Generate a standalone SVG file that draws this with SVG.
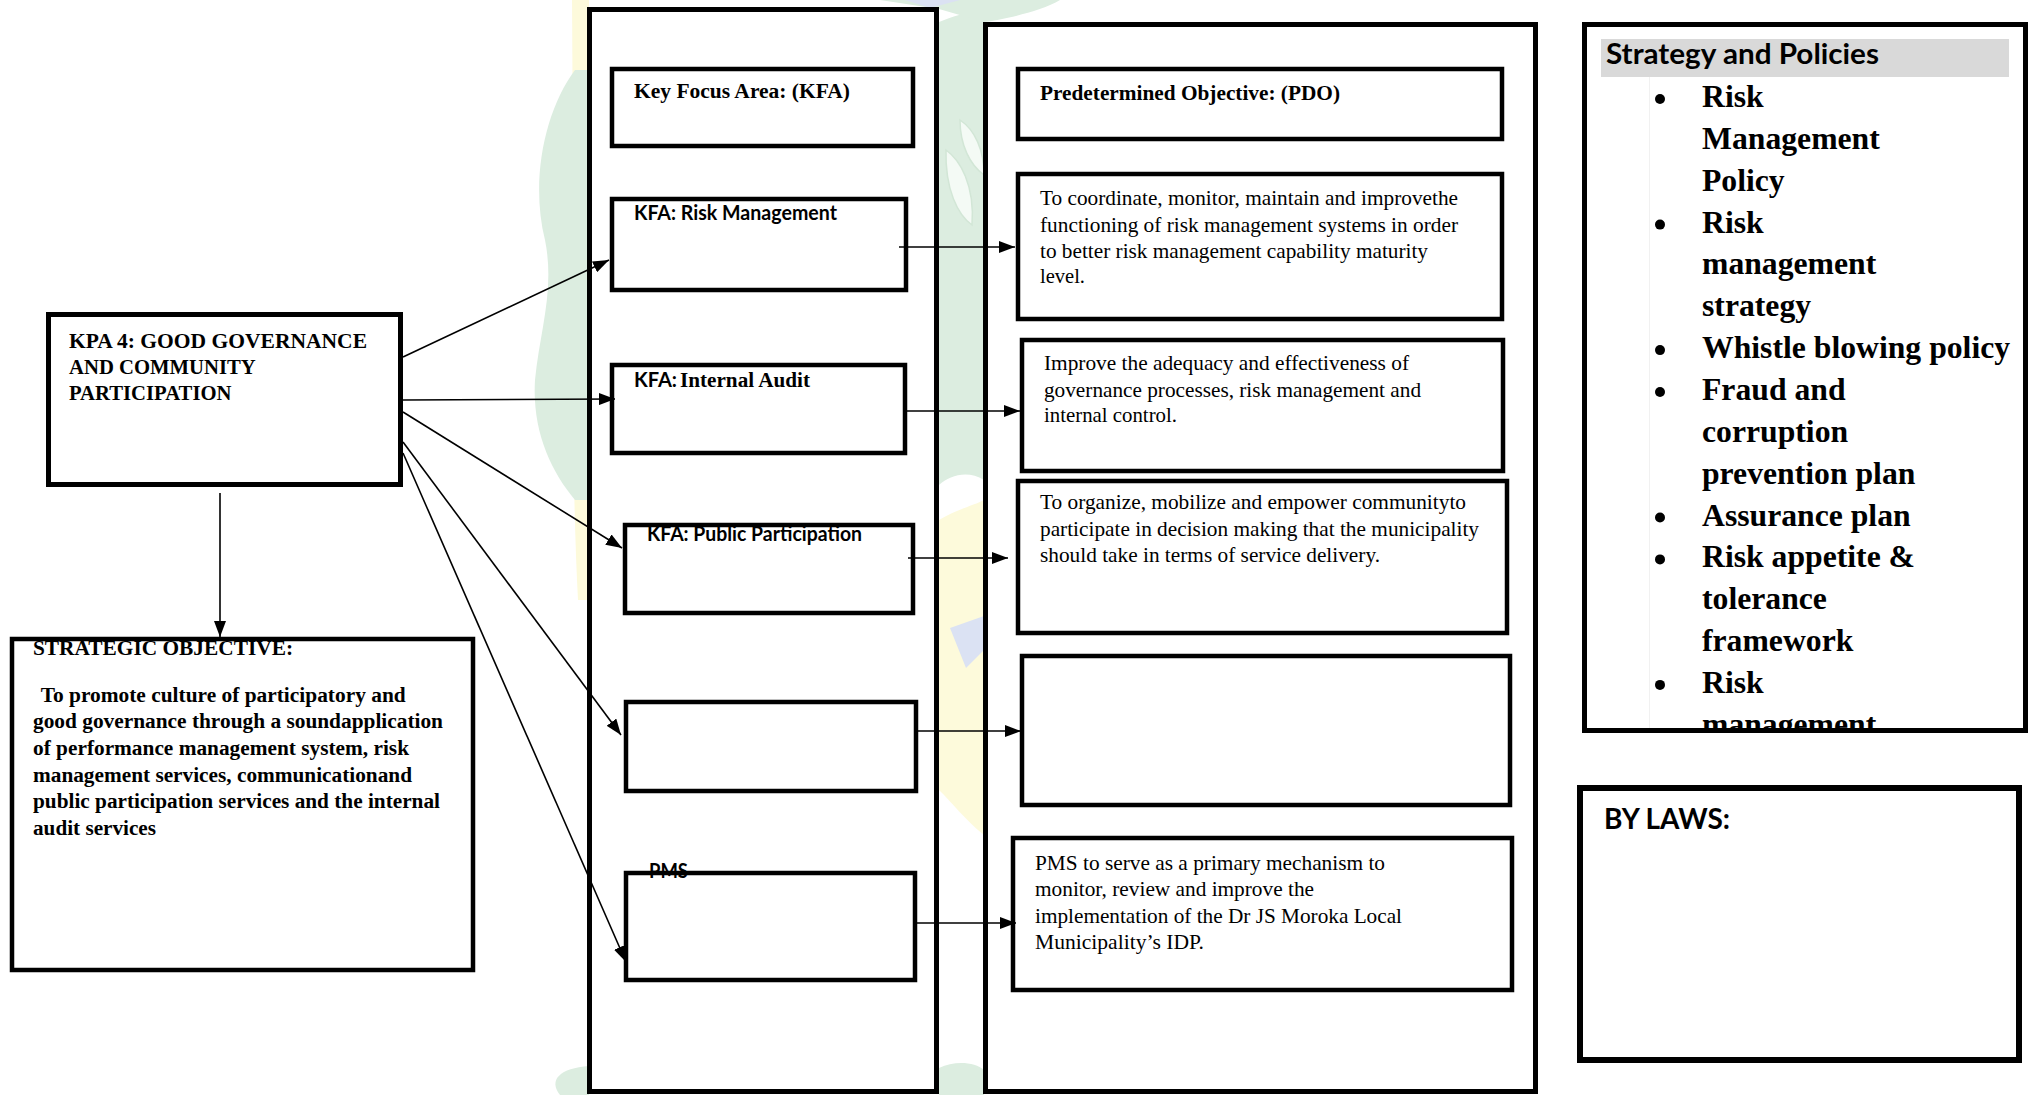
<svg xmlns="http://www.w3.org/2000/svg" width="2031" height="1095" viewBox="0 0 2031 1095">
  <defs>
    <style>
      .frame { fill: #ffffff; stroke: #000000; stroke-width: 5; }
      .box { fill: #ffffff; stroke: #000000; stroke-width: 4.5; }
      .conn { fill: none; stroke: #000000; stroke-width: 1.6; marker-end: url(#arrow); }
      .serif-b { font-family: "Liberation Serif", "Times New Roman", serif; font-weight: bold; font-size: 20.7px; fill: #000000; }
      .serif-r { font-family: "Liberation Serif", "Times New Roman", serif; font-size: 20.7px; fill: #000000; }
      .sans-b { font-family: Lato, "Liberation Sans", sans-serif; font-weight: bold; font-size: 20.7px; fill: #000000; }
      .list { font-family: "Liberation Serif", "Times New Roman", serif; font-weight: bold; font-size: 31.7px; fill: #000000; }
      .wm-green { fill: #dcede0; }
      .wm-yellow { fill: #fdfadb; }
      .wm-blue { fill: #dbe2f3; }
      .wm-leaf { fill: #f4faf5; stroke: #d2e6d6; stroke-width: 1.5; }
    </style>
    <marker id="arrow" markerUnits="userSpaceOnUse" markerWidth="16" markerHeight="12" refX="16" refY="6" orient="auto">
      <path d="M0,0 L16,6 L0,12 Z" fill="#000000"/>
    </marker>
    <clipPath id="policy-clip">
      <rect x="1587" y="27" width="436" height="703"/>
    </clipPath>
  </defs>

  <rect x="0" y="0" width="2031" height="1095" fill="#ffffff"/>

  <!-- faint municipal emblem behind the two central columns -->
  <g id="watermark">
    <path class="wm-yellow" d="M572,0 L589,0 L589,600 L578,600 C570,450 574,250 572,0 Z"/>
    <path class="wm-green" d="M575,70 C545,110 530,180 545,240 C555,290 540,330 535,380 C532,430 550,470 575,500 L589,500 L589,70 Z"/>
    <path class="wm-green" d="M560,1095 C548,1080 560,1068 589,1066 L589,1095 Z"/>
    <path class="wm-green" d="M939,22 C955,16 972,10 984,12 L984,480 C968,470 950,475 939,485 Z"/>
    <path class="wm-leaf" d="M946,150 C960,160 975,185 972,225 C958,215 945,190 946,150 Z"/>
    <path class="wm-leaf" d="M960,120 C975,130 984,150 984,175 C970,165 960,145 960,120 Z"/>
    <path class="wm-yellow" d="M939,520 C955,510 975,505 984,500 L984,835 C965,820 950,800 939,790 Z"/>
    <path class="wm-blue" d="M950,628 L984,616 L984,650 L966,668 Z"/>
    <path class="wm-green" d="M939,1095 L939,1068 C955,1060 975,1062 984,1070 L984,1095 Z"/>
    <path class="wm-green" d="M880,0 L1060,0 C1040,12 1000,20 984,22 L939,9 Z"/>
    <path class="wm-blue" d="M905,0 L960,0 L930,8 Z"/>
  </g>

  <!-- left column -->
  <g id="kpa">
    <rect class="frame" x="48.5" y="314.5" width="352" height="170"/>
    <text class="serif-b" x="69" y="348" textLength="298" lengthAdjust="spacingAndGlyphs">KPA 4: GOOD GOVERNANCE</text>
    <text class="serif-b" x="69" y="374">AND COMMUNITY</text>
    <text class="serif-b" x="69" y="400">PARTICIPATION</text>
  </g>

  <g id="strategic-objective">
    <rect class="box" x="12" y="639" width="461" height="331"/>
    <text class="serif-b" x="33" y="655" textLength="260" lengthAdjust="spacingAndGlyphs">STRATEGIC OBJECTIVE:</text>
    <text class="serif-b" x="40.7" y="701.7" textLength="365" lengthAdjust="spacingAndGlyphs">To promote culture of participatory and</text>
    <text class="serif-b" x="33" y="728.3" textLength="410" lengthAdjust="spacingAndGlyphs">good governance through a soundapplication</text>
    <text class="serif-b" x="33" y="755" textLength="376" lengthAdjust="spacingAndGlyphs">of performance management system, risk</text>
    <text class="serif-b" x="33" y="781.7" textLength="379" lengthAdjust="spacingAndGlyphs">management services, communicationand</text>
    <text class="serif-b" x="33" y="808.3" textLength="407" lengthAdjust="spacingAndGlyphs">public participation services and the internal</text>
    <text class="serif-b" x="33" y="835" textLength="123" lengthAdjust="spacingAndGlyphs">audit services</text>
  </g>

  <!-- key focus area column -->
  <g id="kfa-column">
    <rect class="frame" x="589.5" y="9.5" width="347" height="1082"/>
  </g>

  <g id="kfa-header">
    <rect class="box" x="612" y="69" width="301" height="77"/>
    <text class="serif-b" x="634" y="98" textLength="216" lengthAdjust="spacingAndGlyphs">Key Focus Area: (KFA)</text>
  </g>

  <g id="kfa-risk">
    <rect class="box" x="612" y="199" width="294" height="91"/>
    <text class="sans-b" x="634" y="220" textLength="203" lengthAdjust="spacingAndGlyphs">KFA: Risk Management</text>
  </g>

  <g id="kfa-audit">
    <rect class="box" x="612" y="365" width="293" height="88"/>
    <text class="sans-b" x="634" y="387" textLength="43" lengthAdjust="spacingAndGlyphs">KFA:</text>
    <text class="serif-b" x="680" y="387" textLength="130" lengthAdjust="spacingAndGlyphs">Internal Audit</text>
  </g>

  <g id="kfa-public">
    <rect class="box" x="625" y="525" width="288" height="88"/>
    <text class="sans-b" x="647" y="541" textLength="215" lengthAdjust="spacingAndGlyphs">KFA: Public Participation</text>
  </g>

  <g id="kfa-blank">
    <rect class="box" x="626" y="702" width="290" height="89"/>
  </g>

  <g id="kfa-pms">
    <rect class="box" x="626" y="873" width="289" height="107"/>
    <text class="sans-b" x="649" y="878" textLength="39" lengthAdjust="spacingAndGlyphs">PMS</text>
  </g>

  <!-- predetermined objective column -->
  <g id="pdo-column">
    <rect class="frame" x="985.5" y="24.5" width="550" height="1067"/>
  </g>

  <g id="pdo-header">
    <rect class="box" x="1018" y="69" width="484" height="70"/>
    <text class="serif-b" x="1040" y="100" textLength="300" lengthAdjust="spacingAndGlyphs">Predetermined Objective: (PDO)</text>
  </g>

  <g id="pdo-risk">
    <rect class="box" x="1018" y="174" width="484" height="145"/>
    <text class="serif-r" x="1040" y="205" textLength="418" lengthAdjust="spacingAndGlyphs">To coordinate, monitor, maintain and improvethe</text>
    <text class="serif-r" x="1040" y="231.7" textLength="418" lengthAdjust="spacingAndGlyphs">functioning of risk management systems in order</text>
    <text class="serif-r" x="1040" y="258.3" textLength="388" lengthAdjust="spacingAndGlyphs">to better risk management capability maturity</text>
    <text class="serif-r" x="1040" y="283.3" textLength="45" lengthAdjust="spacingAndGlyphs">level.</text>
  </g>

  <g id="pdo-audit">
    <rect class="box" x="1022" y="340" width="481" height="131"/>
    <text class="serif-r" x="1044" y="370" textLength="365" lengthAdjust="spacingAndGlyphs">Improve the adequacy and effectiveness of</text>
    <text class="serif-r" x="1044" y="397" textLength="377" lengthAdjust="spacingAndGlyphs">governance processes, risk management and</text>
    <text class="serif-r" x="1044" y="422" textLength="133" lengthAdjust="spacingAndGlyphs">internal control.</text>
  </g>

  <g id="pdo-public">
    <rect class="box" x="1018" y="481" width="489" height="152"/>
    <text class="serif-r" x="1040" y="509" textLength="426" lengthAdjust="spacingAndGlyphs">To organize, mobilize and empower communityto</text>
    <text class="serif-r" x="1040" y="536" textLength="439" lengthAdjust="spacingAndGlyphs">participate in decision making that the municipality</text>
    <text class="serif-r" x="1040" y="562" textLength="340" lengthAdjust="spacingAndGlyphs">should take in terms of service delivery.</text>
  </g>

  <g id="pdo-blank">
    <rect class="box" x="1022" y="656" width="488" height="149"/>
  </g>

  <g id="pdo-pms">
    <rect class="box" x="1013" y="838" width="499" height="152"/>
    <text class="serif-r" x="1035" y="870" textLength="350" lengthAdjust="spacingAndGlyphs">PMS to serve as a primary mechanism to</text>
    <text class="serif-r" x="1035" y="896" textLength="279" lengthAdjust="spacingAndGlyphs">monitor, review and improve the</text>
    <text class="serif-r" x="1035" y="923" textLength="367" lengthAdjust="spacingAndGlyphs">implementation of the Dr JS Moroka Local</text>
    <text class="serif-r" x="1035" y="949" textLength="169" lengthAdjust="spacingAndGlyphs">Municipality’s IDP.</text>
  </g>

  <!-- right column -->
  <g id="strategy-policies">
    <rect class="frame" x="1584.5" y="24.5" width="441" height="706"/>
    <g clip-path="url(#policy-clip)">
      <rect x="1601" y="39" width="408" height="38" fill="#d9d9d9"/>
      <line x1="1649.5" y1="77" x2="1649.5" y2="730" stroke="#f1f1f1" stroke-width="1"/>
      <text class="sans-b" x="1606" y="64" style="font-size:28px" textLength="273" lengthAdjust="spacingAndGlyphs">Strategy and Policies</text>
      <circle cx="1660" cy="99" r="5"/>
      <circle cx="1660" cy="224.6" r="5"/>
      <circle cx="1660" cy="350.1" r="5"/>
      <circle cx="1660" cy="392" r="5"/>
      <circle cx="1660" cy="517.5" r="5"/>
      <circle cx="1660" cy="559.4" r="5"/>
      <circle cx="1660" cy="684.9" r="5"/>
      <text class="list" x="1702" y="107">Risk</text>
      <text class="list" x="1702" y="148.9">Management</text>
      <text class="list" x="1702" y="190.7">Policy</text>
      <text class="list" x="1702" y="232.6">Risk</text>
      <text class="list" x="1702" y="274.4">management</text>
      <text class="list" x="1702" y="316.3">strategy</text>
      <text class="list" x="1702" y="358.1">Whistle blowing policy</text>
      <text class="list" x="1702" y="400">Fraud and</text>
      <text class="list" x="1702" y="441.8">corruption</text>
      <text class="list" x="1702" y="483.7">prevention plan</text>
      <text class="list" x="1702" y="525.5">Assurance plan</text>
      <text class="list" x="1702" y="567.4">Risk appetite &amp;</text>
      <text class="list" x="1702" y="609.2">tolerance</text>
      <text class="list" x="1702" y="651.1">framework</text>
      <text class="list" x="1702" y="692.9">Risk</text>
      <text class="list" x="1702" y="734.8">management</text>
    </g>
    <rect x="1584.5" y="24.5" width="441" height="706" fill="none" stroke="#000000" stroke-width="5"/>
  </g>

  <g id="by-laws">
    <rect class="box" x="1580" y="788" width="439" height="272" style="stroke-width:6"/>
    <text class="sans-b" x="1604" y="829" style="font-size:29px" textLength="126" lengthAdjust="spacingAndGlyphs">BY LAWS:</text>
  </g>

  <!-- arrows -->
  <g id="connectors">
    <line class="conn" x1="220" y1="493" x2="220" y2="637"/>
    <line class="conn" x1="403" y1="357" x2="609" y2="260"/>
    <line class="conn" x1="403" y1="400" x2="615" y2="399"/>
    <line class="conn" x1="403" y1="412" x2="622" y2="548"/>
    <line class="conn" x1="403" y1="442" x2="621" y2="735"/>
    <line class="conn" x1="403" y1="453" x2="626" y2="962"/>
    <line class="conn" x1="899" y1="247" x2="1015" y2="247"/>
    <line class="conn" x1="907" y1="411" x2="1020" y2="411"/>
    <line class="conn" x1="908" y1="558" x2="1008" y2="558"/>
    <line class="conn" x1="918" y1="731" x2="1021" y2="731"/>
    <line class="conn" x1="917" y1="923" x2="1016" y2="923"/>
  </g>
</svg>
